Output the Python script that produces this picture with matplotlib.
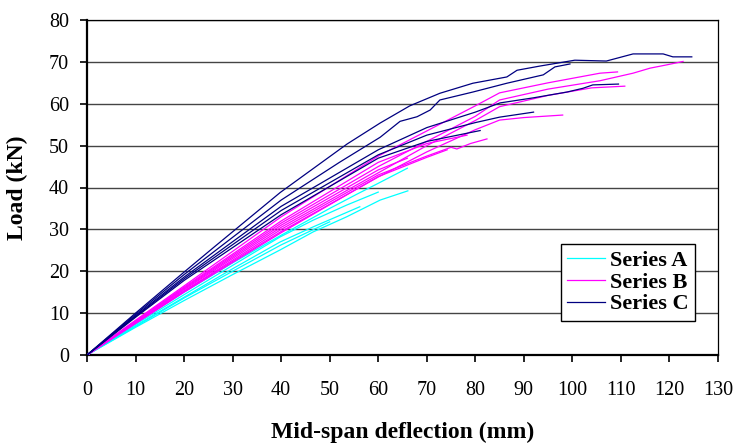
import matplotlib
matplotlib.use("Agg")
import matplotlib.pyplot as plt

# ── Load–deflection curves (x in mm, y in kN) ────────────────────────────────
# Series A (cyan)
A1_X = [0, 10, 20, 30, 39.8, 46.6, 53.5, 60.4, 66.1]
A1_Y = [0, 6.6, 13.0, 19.2, 25.1, 29.4, 33.0, 37.0, 39.2]
A2_X = [0, 10, 20, 30, 39.8, 46.6, 53.5, 60.0]
A2_Y = [0, 7.3, 14.4, 21.4, 28.2, 32.2, 35.8, 38.9]
A3_X = [0, 10, 20, 30, 39.8, 46.6, 56.2]
A3_Y = [0, 7.0, 13.8, 20.6, 27.0, 30.6, 35.4]
A4_X = [0, 10, 20, 30, 40, 50]
A4_Y = [0, 6.8, 13.6, 20.0, 26.3, 31.8]
A5_X = [0, 10, 20, 30, 40, 50, 55.6, 60, 66.0]
A5_Y = [0, 7.6, 15.0, 22.0, 28.6, 35.0, 38.4, 41.0, 44.6]

# Series B (magenta)
B1_X = [0, 10, 20, 40, 60, 70, 80, 85, 95, 105.7, 112.5, 116, 119.5, 122.8]
B1_Y = [0, 8.0, 16.0, 31.5, 45.0, 51.0, 57.0, 60.9, 63.5, 65.5, 67.3, 68.5, 69.3, 70.1]
B2_X = [0, 10, 20, 40, 60, 70, 80, 85, 95, 105.7, 109.3]
B2_Y = [0, 8.3, 16.5, 33.0, 47.5, 53.5, 59.5, 62.6, 65.0, 67.3, 67.6]
B3_X = [0, 10, 20, 40, 60, 70, 80, 85, 95, 104, 110.8]
B3_Y = [0, 7.8, 15.6, 30.5, 43.5, 50.0, 56.0, 59.3, 62.0, 63.8, 64.2]
B4_X = [0, 10, 20, 40, 60, 70, 80, 85, 90, 98]
B4_Y = [0, 7.6, 15.2, 29.5, 42.5, 48.5, 53.8, 56.1, 56.7, 57.3]
B5_X = [0, 10, 20, 40, 60, 70, 75, 76.2, 79, 82.4]
B5_Y = [0, 7.7, 15.3, 30.0, 43.0, 47.5, 49.6, 49.2, 50.5, 51.6]
B6_X = [0, 10, 20, 40, 60, 70, 78.3]
B6_Y = [0, 8.1, 16.2, 32.0, 46.0, 50.5, 52.5]
B7_X = [0, 10, 20, 40, 60, 70, 74.2]
B7_Y = [0, 7.5, 15.0, 29.2, 42.6, 47.2, 49.0]
B8_X = [0, 10, 20, 40, 60, 66]
B8_Y = [0, 7.9, 15.8, 31.0, 44.2, 47.0]

# Series C (navy)
C1_X = [0, 10, 20, 26, 39.8, 53.6, 60.4, 66.5, 72.7, 79.5, 86.5, 88.6, 93.3,
        100.5, 107, 112.5, 118.7, 120.7, 124.6]
C1_Y = [0, 10.0, 19.8, 25.6, 38.8, 50.4, 55.4, 59.5, 62.5, 64.9, 66.4, 68.0, 69.0,
        70.4, 70.2, 71.9, 71.9, 71.2, 71.2]
C2_X = [0, 10, 20, 40, 52, 60.4, 64.5, 68, 70.7, 72.7, 79.5, 86.5, 94, 96.4, 99.5]
C2_Y = [0, 9.7, 19.2, 37.0, 46.0, 52.0, 55.8, 56.9, 58.5, 60.9, 62.8, 64.9, 66.9, 68.8, 69.5]
C3_X = [0, 10, 20, 40, 60, 70, 80, 85.1, 91.9, 98.9, 102.2, 104.2, 109.5]
C3_Y = [0, 9.4, 18.6, 35.5, 49.0, 54.3, 58.0, 60.2, 61.4, 62.8, 63.7, 64.5, 64.7]
C4_X = [0, 10, 20, 40, 60, 70, 80, 85, 92]
C4_Y = [0, 9.2, 18.2, 34.5, 47.8, 52.5, 55.5, 56.8, 58.0]
C5_X = [0, 10, 20, 40, 60, 70, 81]
C5_Y = [0, 9.0, 17.8, 33.5, 47.0, 51.0, 53.6]

SERIES = [
    ("Series A", "#00FFFF", [(A1_X, A1_Y), (A2_X, A2_Y), (A3_X, A3_Y), (A4_X, A4_Y), (A5_X, A5_Y)]),
    ("Series B", "#FF00FF", [(B1_X, B1_Y), (B2_X, B2_Y), (B3_X, B3_Y), (B4_X, B4_Y),
                             (B5_X, B5_Y), (B6_X, B6_Y), (B7_X, B7_Y), (B8_X, B8_Y)]),
    ("Series C", "#000080", [(C1_X, C1_Y), (C2_X, C2_Y), (C3_X, C3_Y), (C4_X, C4_Y), (C5_X, C5_Y)]),
]

X_TICKS = list(range(0, 131, 10))
Y_TICKS = list(range(0, 81, 10))

plt.rcParams["font.family"] = ["Liberation Serif", "DejaVu Serif"]

fig = plt.figure(figsize=(7.34, 4.43), dpi=100)
ax = fig.add_axes([87 / 734, 88 / 443, 631 / 734, 335 / 443])

for label, color, curves in SERIES:
    for i, (xs, ys) in enumerate(curves):
        ax.plot(xs, ys, color=color, lw=0.9, label=label if i == 0 else None, zorder=3)

ax.set_xlim(0, 130)
ax.set_ylim(0, 80)
ax.set_xticks(X_TICKS)
ax.set_yticks(Y_TICKS)
ax.tick_params(axis="both", direction="out", labelsize=14.5, width=1.2, length=5)
ax.tick_params(axis="x", pad=14)
ax.tick_params(axis="y", pad=8)

ax.yaxis.grid(True, color="#444444", lw=1.0)
ax.set_axisbelow(True)

for side in ("left", "bottom"):
    ax.spines[side].set_linewidth(1.6)
for side in ("top", "right"):
    ax.spines[side].set_linewidth(0.9)

ax.set_xlabel("Mid-span deflection (mm)", fontsize=17, fontweight="bold")
ax.set_ylabel("Load (kN)", fontsize=17, fontweight="bold")
ax.xaxis.set_label_coords(0.5, -0.2)
ax.yaxis.set_label_coords(-0.093, 0.5)

leg = ax.legend(loc="lower right", bbox_to_anchor=(0.9635, 0.1015), borderaxespad=0,
                prop={"weight": "bold", "size": 16}, fancybox=False, framealpha=1,
                edgecolor="black", handlelength=1.7, handletextpad=0.2,
                labelspacing=0.05, borderpad=0.3)
leg.get_frame().set_linewidth(1.0)

fig.savefig("out.png", dpi=100)
